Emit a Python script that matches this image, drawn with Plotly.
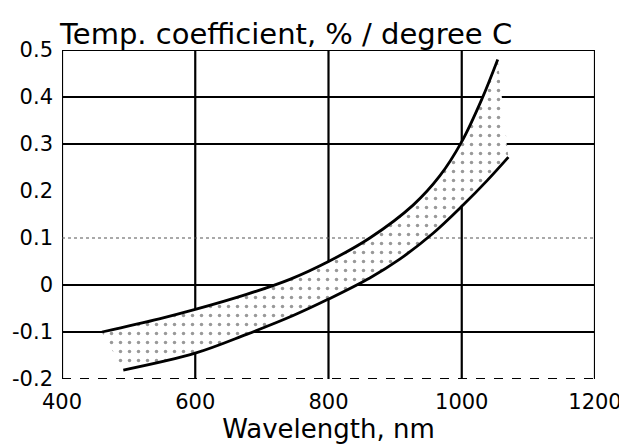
import plotly.graph_objects as go

# wavelength (nm) and temperature coefficient (% / degree C)
upper_wl = [460, 546, 600, 677, 742, 800, 862, 927, 967, 1000, 1030, 1054]
upper_tc = [-0.100, -0.072, -0.052, -0.020, 0.012, 0.050, 0.100, 0.170, 0.232, 0.305, 0.395, 0.480]
lower_wl = [492, 600, 677, 747, 800, 862, 907, 957, 1002, 1038, 1070]
lower_tc = [-0.181, -0.145, -0.105, -0.065, -0.030, 0.015, 0.055, 0.110, 0.170, 0.222, 0.272]

x_ticks = [400, 600, 800, 1000, 1200]
y_ticks = [-0.2, -0.1, 0, 0.1, 0.2, 0.3, 0.4, 0.5]
y_tick_text = ['-0.2', '-0.1', '0', '0.1', '0.2', '0.3', '0.4', '0.5']

# horizontal grid: solid / dotted / dashed like the original
solid_h = [-0.1, 0, 0.3, 0.4, 0.5]
dotted_h = [0.1]
dashed_h = [-0.2]

fig = go.Figure()

# dotted band between the two curves
band_x = lower_wl + upper_wl[::-1]
band_y = lower_tc + upper_tc[::-1]
fig.add_trace(go.Scatter(
    x=band_x, y=band_y, mode='lines', line=dict(width=0),
    fill='toself', fillcolor='rgba(0,0,0,0)',
    fillpattern=dict(shape='.', fgcolor='#333', bgcolor='white', size=9, solidity=0.12),
    hoverinfo='skip', showlegend=False,
))
fig.add_trace(go.Scatter(
    x=upper_wl, y=upper_tc, mode='lines',
    line=dict(color='black', width=2.8, shape='spline'), showlegend=False,
))
fig.add_trace(go.Scatter(
    x=lower_wl, y=lower_tc, mode='lines',
    line=dict(color='black', width=2.8, shape='spline'), showlegend=False,
))

for xv in x_ticks:
    fig.add_shape(type='line', xref='x', yref='y', x0=xv, x1=xv, y0=-0.2, y1=0.5,
                  line=dict(color='black', width=2.2), layer='below')
for yv in solid_h:
    fig.add_shape(type='line', xref='x', yref='y', x0=400, x1=1200, y0=yv, y1=yv,
                  line=dict(color='black', width=1.8), layer='below')
for yv in dotted_h:
    fig.add_shape(type='line', xref='x', yref='y', x0=400, x1=1200, y0=yv, y1=yv,
                  line=dict(color='#555', width=1.2, dash='dot'), layer='below')
for yv in dashed_h:
    fig.add_shape(type='line', xref='x', yref='y', x0=400, x1=1200, y0=yv, y1=yv,
                  line=dict(color='black', width=1.8, dash='dash'), layer='below')

# page body adds ~8px, so the figure is a bit smaller than the window
fig.update_layout(
    width=619, height=439,
    paper_bgcolor='white', plot_bgcolor='white',
    margin=dict(l=54, r=32, t=42, b=68),
    font=dict(family='DejaVu Sans, sans-serif', color='black', size=21),
    title=dict(text='Temp. coefficient, % / degree C', x=52 / 619, xanchor='left',
               y=0.965, yanchor='top', font=dict(size=29)),
    xaxis=dict(range=[400, 1200], tickvals=x_ticks, showgrid=False, zeroline=False,
               showline=False, ticks='', tickfont=dict(size=21), ticklabelstandoff=8,
               automargin=False,
               title=dict(text='Wavelength, nm', font=dict(size=26), standoff=0)),
    yaxis=dict(range=[-0.2, 0.5], tickvals=y_ticks, ticktext=y_tick_text,
               showgrid=False, zeroline=False, showline=False, ticks='',
               tickfont=dict(size=21), ticklabelstandoff=8, automargin=False),
)

fig.write_html("out.html")
